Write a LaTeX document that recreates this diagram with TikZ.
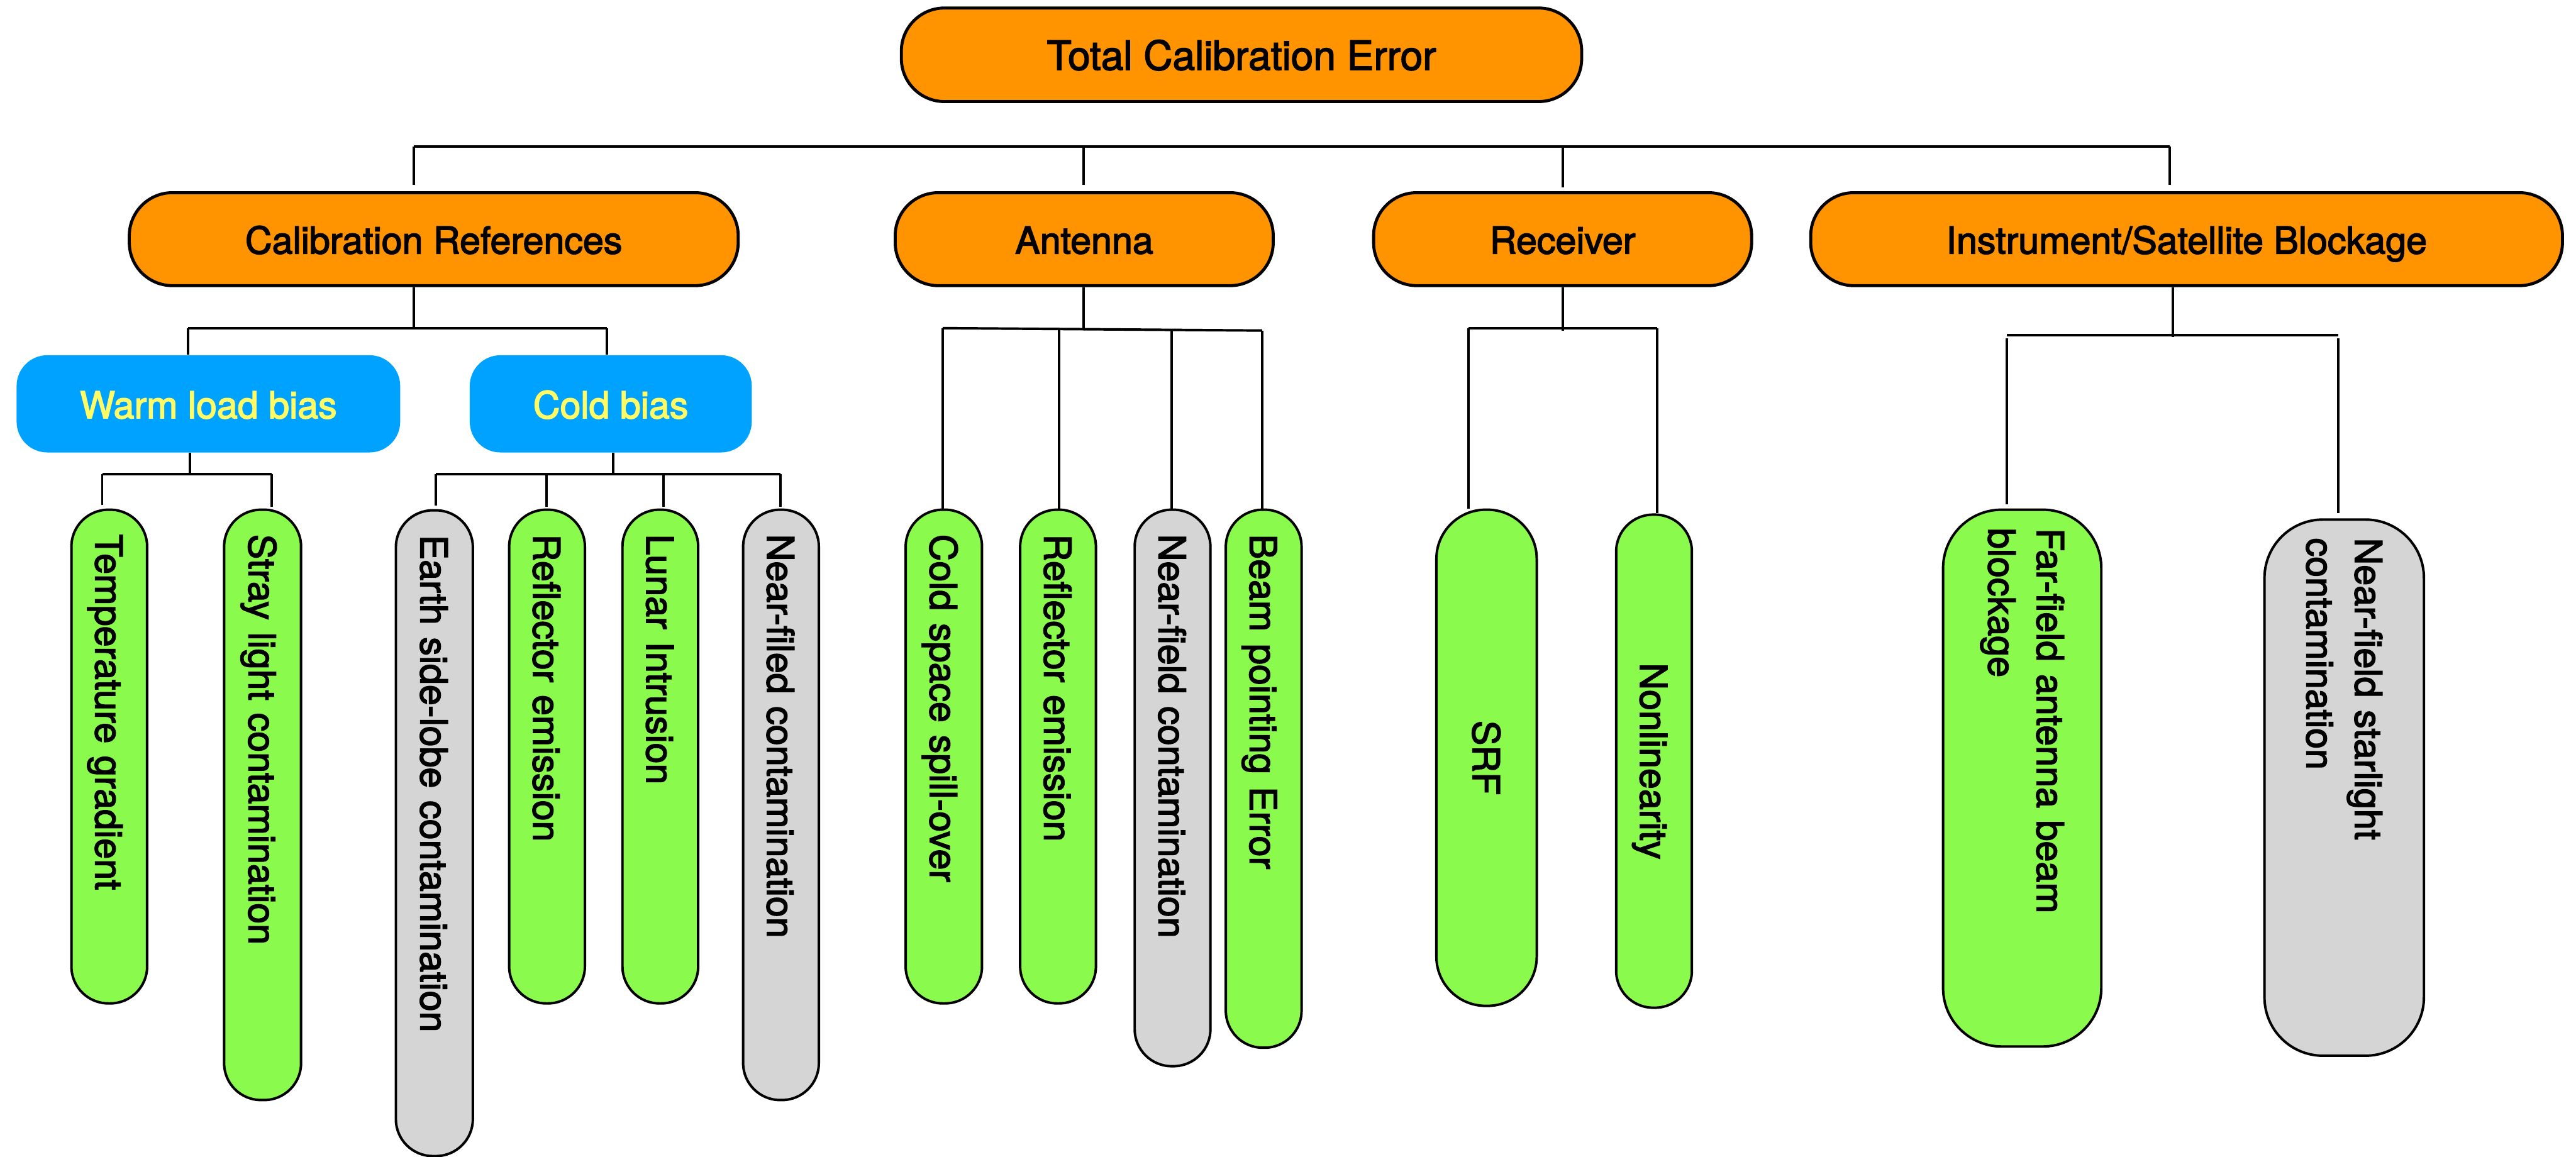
\documentclass[tikz,border=0pt]{standalone}
\usepackage{fontspec}
\setmainfont{TeX Gyre Heros}
\newcommand\thk{\special{pdf:literal direct 2 Tr 0.45 w}}
\definecolor{orng}{HTML}{FF9300}
\definecolor{skyb}{HTML}{00A2FF}
\definecolor{yell}{HTML}{FFFC66}
\definecolor{lgreen}{HTML}{8AFA4D}
\definecolor{lgray}{HTML}{D5D5D5}
\begin{document}
\begin{tikzpicture}[
  conn/.style={line width=1.15pt},
  titlebox/.style={draw, line width=1.4pt, fill=orng, rounded corners=0.7cm, inner sep=0pt,
    text height=0.47cm, text depth=0cm, font=\fontsize{17.2}{20}\selectfont\thk},
  bluebox/.style={fill=skyb, rounded corners=0.5cm, text=yell, inner sep=0pt,
    text height=0.47cm, text depth=0cm, font=\fontsize{17.2}{20}\selectfont\thk},
  leaf/.style={draw, line width=1.15pt, rotate=-90, inner ysep=0pt, inner xsep=0.4cm,
    font=\fontsize{17.2}{22.4}\selectfont\thk, align=left, rounded corners=0.6cm},
  oneline/.style={text height=0.45cm, text depth=0cm},
  gleaf/.style={leaf, fill=lgreen},
  sleaf/.style={leaf, fill=lgray},
]
\useasboundingbox (0,0) rectangle (41.84,-18.79);

% level 0 and 1
\node[titlebox, minimum width=11.05cm, minimum height=1.52cm, text height=0.49cm, font=\fontsize{18.6}{22}\selectfont\thk] (total) at (20.165,-0.89) {Total Calibration Error};
\node[titlebox, minimum width=9.89cm, minimum height=1.51cm] (calref) at (7.045,-3.885) {Calibration References};
\node[titlebox, minimum width=6.14cm, minimum height=1.51cm] (ant) at (17.61,-3.885) {Antenna};
\node[titlebox, minimum width=6.14cm, minimum height=1.51cm] (rec) at (25.38,-3.885) {Receiver};
\node[titlebox, minimum width=12.21cm, minimum height=1.51cm] (inst) at (35.515,-3.885) {Instrument/Satellite Blockage};

% level 2
\node[bluebox, minimum width=6.23cm, minimum height=1.58cm] (warm) at (3.385,-6.56) {Warm load bias};
\node[bluebox, minimum width=4.58cm, minimum height=1.58cm] (cold) at (9.92,-6.56) {Cold bias};

% leaves
\node[gleaf, oneline, minimum height=1.23cm, text width=7.22cm] (tg) at (1.775,-12.29) {Temperature gradient};
\node[gleaf, oneline, minimum height=1.25cm, text width=8.79cm] (sl) at (4.265,-13.075) {Stray light contamination};
\node[sleaf, oneline, minimum height=1.25cm, text width=9.69cm] (es) at (7.055,-13.535) {Earth side-lobe contamination};
\node[gleaf, oneline, minimum height=1.23cm, text width=7.22cm] (re1) at (8.885,-12.29) {Reflector emission};
\node[gleaf, oneline, minimum height=1.23cm, text width=7.22cm] (li) at (10.725,-12.29) {Lunar Intrusion};
\node[sleaf, oneline, minimum height=1.23cm, text width=8.79cm] (nf1) at (12.685,-13.075) {Near-filed contamination};
\node[gleaf, oneline, minimum height=1.24cm, text width=7.22cm] (cs) at (15.33,-12.29) {Cold space spill-over};
\node[gleaf, oneline, minimum height=1.23cm, text width=7.22cm] (re2) at (17.185,-12.29) {Reflector emission};
\node[sleaf, oneline, minimum height=1.23cm, text width=8.24cm] (nf2) at (19.045,-12.80) {Near-field contamination};
\node[gleaf, oneline, minimum height=1.23cm, text width=7.94cm] (bp) at (20.525,-12.65) {Beam pointing Error};
\node[gleaf, oneline, minimum height=1.63cm, text width=7.26cm, align=center, rounded corners=0.8cm] (srf) at (24.145,-12.31) {SRF};
\node[gleaf, oneline, minimum height=1.23cm, text width=7.21cm, align=center] (nl) at (26.865,-12.365) {Nonlinearity};
\node[gleaf, minimum height=2.57cm, inner xsep=0.3cm, text width=8.12cm, rounded corners=0.95cm] (ff) at (32.845,-12.64) {Far-field antenna beam\\blockage};
\node[sleaf, minimum height=2.59cm, inner xsep=0.3cm, text width=8.11cm, rounded corners=0.95cm] (ns) at (38.075,-12.795) {Near-field starlight\\contamination};

% top bus
\coordinate (b0a) at (6.72,-2.38);
\coordinate (b0b) at (17.60,-2.38);
\coordinate (b0c) at (25.38,-2.38);
\coordinate (b0d) at (35.24,-2.38);
\draw[conn] (b0a) -- (b0d);
\draw[conn, shorten >=0.1cm] (b0a) -- (b0a |- calref.north);
\draw[conn, shorten >=0.1cm] (b0b) -- (b0b |- ant.north);
\draw[conn, shorten >=0.06cm] (b0c) -- (b0c |- rec.north);
\draw[conn, shorten >=0.1cm] (b0d) -- (b0d |- inst.north);

% calibration references
\coordinate (c0) at (6.72,-5.33);
\coordinate (c1) at (3.05,-5.33);
\coordinate (c2) at (9.86,-5.33);
\draw[conn] (c0 |- calref.south) -- (c0);
\draw[conn] (c1) -- (c2);
\draw[conn] (c1) -- (c1 |- warm.north);
\draw[conn] (c2) -- (c2 |- cold.north);

% warm load bias
\coordinate (w0) at (3.08,-7.70);
\coordinate (w1) at (1.66,-7.70);
\coordinate (w2) at (4.41,-7.70);
\draw[conn] (w0 |- warm.south) -- (w0);
\draw[conn] (w1) -- (w2);
\draw[conn, shorten >=0.06cm] (w1) -- (w1 |- tg.west);
\draw[conn, shorten >=0.03cm] (w2) -- (w2 |- sl.west);

% cold bias
\coordinate (k0) at (9.96,-7.70);
\coordinate (k1) at (7.08,-7.70);
\coordinate (k2) at (8.88,-7.70);
\coordinate (k3) at (10.78,-7.70);
\coordinate (k4) at (12.68,-7.70);
\draw[conn] (k0 |- cold.south) -- (k0);
\draw[conn] (k1) -- (k4);
\draw[conn, shorten >=0.06cm] (k1) -- (k1 |- es.west);
\draw[conn, shorten >=0.03cm] (k2) -- (k2 |- re1.west);
\draw[conn, shorten >=0.03cm] (k3) -- (k3 |- li.west);
\draw[conn, shorten >=0.03cm] (k4) -- (k4 |- nf1.west);

% antenna
\coordinate (a0) at (17.60,-5.34);
\coordinate (a1) at (15.31,-5.33);
\coordinate (a2) at (17.20,-5.345);
\coordinate (a3) at (19.03,-5.36);
\coordinate (a4) at (20.50,-5.37);
\draw[conn] (a0 |- ant.south) -- (a0);
\draw[conn] (a1) -- (a4);
\draw[conn] (a1) -- (a1 |- cs.west);
\draw[conn] (a2) -- (a2 |- re2.west);
\draw[conn] (a3) -- (a3 |- nf2.west);
\draw[conn] (a4) -- (a4 |- bp.west);

% receiver
\coordinate (r0) at (25.38,-5.37);
\coordinate (r1) at (23.85,-5.33);
\coordinate (r2) at (26.92,-5.33);
\draw[conn] (r0 |- rec.south) -- (r0);
\draw[conn] (r1) -- (r2);
\draw[conn] (r1) -- (r1 |- srf.west);
\draw[conn] (r2) -- (r2 |- nl.west);

% instrument / satellite blockage
\coordinate (i0) at (35.29,-5.47);
\coordinate (i1) at (32.60,-5.44);
\coordinate (i2) at (37.98,-5.44);
\draw[conn] (i0 |- inst.south) -- (i0);
\draw[conn] (i1) -- (i2);
\draw[conn, shorten <=0.06cm, shorten >=0.07cm] (i1) -- (i1 |- ff.west);
\draw[conn, shorten <=0.06cm, shorten >=0.08cm] (i2) -- (i2 |- ns.west);
\end{tikzpicture}
\end{document}
